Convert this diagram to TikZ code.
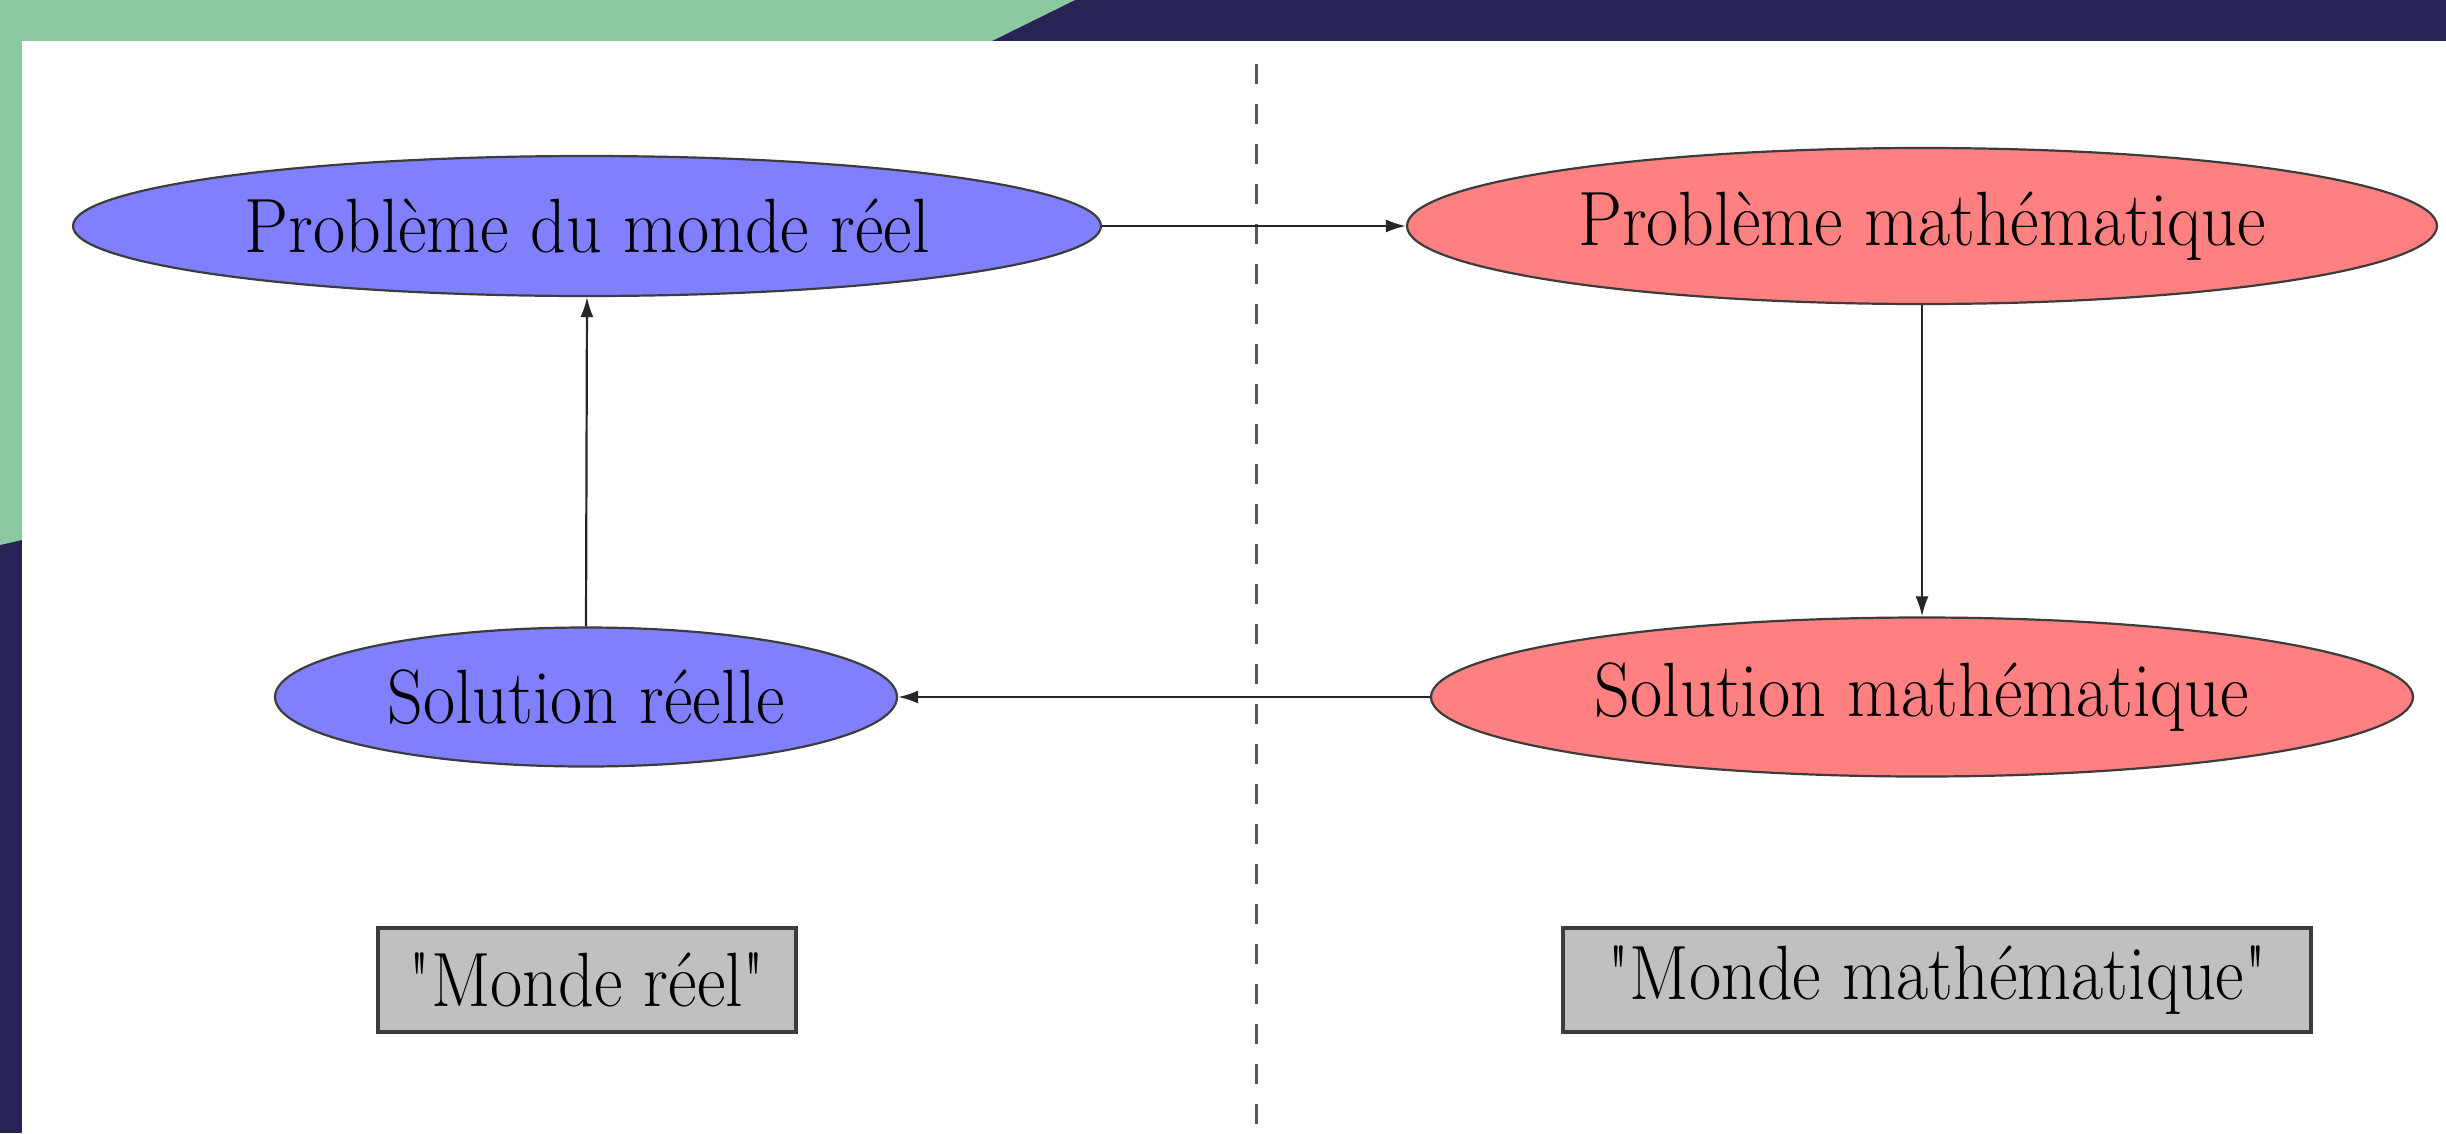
\documentclass[tikz,border=0pt]{standalone}
\usepackage{graphicx}
\usetikzlibrary{shapes.geometric,arrows.meta}

\definecolor{slidenavy}{RGB}{39,35,84}
\definecolor{slidegreen}{RGB}{141,201,160}
\definecolor{realblue}{RGB}{128,128,255}
\definecolor{mathred}{RGB}{255,128,128}
\definecolor{labelgray}{RGB}{192,192,192}
\definecolor{edgegray}{RGB}{60,60,60}

\newcommand{\bigtext}[1]{\fontsize{70}{76}\selectfont\scalebox{1}[1.1]{#1}}
% straight double quote, taken directly from the font
\newcommand{\sqq}{\XeTeXglyph\XeTeXglyphindex "quotedbl"\relax}

\tikzset{
  worldnode/.style={ellipse, draw=edgegray, line width=2.2pt, inner sep=0pt},
  realnode/.style={worldnode, fill=realblue},
  mathnode/.style={worldnode, fill=mathred},
  labelbox/.style={rectangle, draw=edgegray, line width=3.5pt, fill=labelgray,
                   inner sep=0pt, minimum height=104pt},
  flow/.style={draw=black!85, line width=2.2pt, -{Latex[length=20pt,width=13pt]}},
  divider/.style={draw=black!65, line width=3pt, dash pattern=on 20pt off 20pt}
}

\begin{document}
\begin{tikzpicture}[x=1pt,y=-1pt]
  % slide background
  \fill[slidenavy] (0,0) rectangle (2446,1133);
  \fill[slidegreen] (0,0) -- (1075,0) -- (700,185) -- (22,540) -- (0,545) -- cycle;
  \fill[white] (22,41) rectangle (2446,1133);
  \useasboundingbox (0,0) rectangle (2446,1133);

  % separation between the two worlds
  \coordinate (divtop) at (1256,64);
  \coordinate (divbot) at (1256,1133);
  \draw[divider] (divtop) -- (divbot);

  % the four stages
  \node[realnode, minimum width=1028pt, minimum height=140pt] (pbreel) at (587,226)
    {\bigtext{Problème du monde réel}};
  \node[mathnode, minimum width=1030pt, minimum height=156pt] (pbmath) at (1922,226)
    {\bigtext{Problème mathématique}};
  \node[realnode, minimum width=622pt, minimum height=139pt] (solreel) at (586,697)
    {\bigtext{Solution réelle}};
  \node[mathnode, minimum width=982pt, minimum height=159pt] (solmath) at (1922,697)
    {\bigtext{Solution mathématique}};

  % world labels
  \node[labelbox, minimum width=418pt] (mreel) at (587,980)
    {\bigtext{\sqq Monde réel\sqq}};
  \node[labelbox, minimum width=748pt] (mmath) at (1937,980)
    {\bigtext{\sqq Monde mathématique\sqq}};

  % modelling cycle
  \draw[flow] (pbreel.east) -- (pbmath.west);
  \draw[flow] (pbmath.south) -- (solmath.north);
  \draw[flow] (solmath.west) -- (solreel.east);
  \draw[flow] (solreel.north) -- (pbreel.south);
\end{tikzpicture}
\end{document}
